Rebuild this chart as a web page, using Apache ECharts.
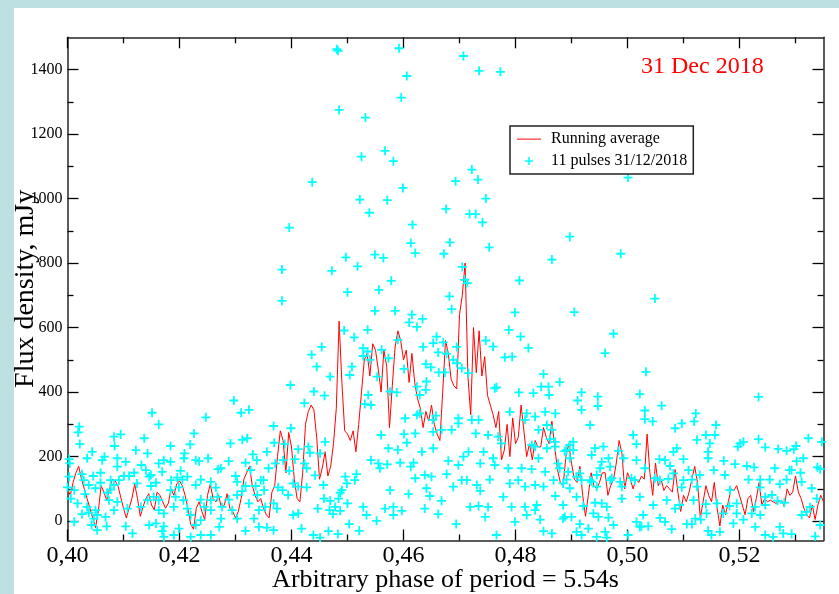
<!DOCTYPE html>
<html>
<head>
<meta charset="utf-8">
<script src="https://cdn.jsdelivr.net/npm/echarts@6/dist/echarts.min.js"></script>
<style>
html,body{margin:0;padding:0;background:#bde0e3;width:839px;height:594px;overflow:hidden;}
#chart{position:absolute;left:14px;top:8px;width:825px;height:586px;background:#ffffff;}
</style>
</head>
<body>
<div id="chart"></div>
<script>
// ---- axis ticks / labels ----
const xMajorTicks = [0.40, 0.42, 0.44, 0.46, 0.48, 0.50, 0.52];
const xMinorTicks = [0.41, 0.43, 0.45, 0.47, 0.49, 0.51, 0.53];
const yMajorTicks = [0, 200, 400, 600, 800, 1000, 1200, 1400];
const yMinorTicks = [100, 300, 500, 700, 900, 1100, 1300];

const titleText = '31 Dec 2018';
const xTitle = 'Arbitrary phase of period = 5.54s';
const yTitle = 'Flux density, mJy';
const seriesNames = ['Running average', '11 pulses 31/12/2018'];

// ---- running average (phase, flux) ----
const avgPhase = [
0.4000,0.4005,0.4010,0.4015,0.4020,0.4025,0.4030,0.4035,0.4040,0.4045,
0.4050,0.4055,0.4060,0.4065,0.4070,0.4075,0.4080,0.4085,0.4090,0.4095,
0.4100,0.4105,0.4110,0.4115,0.4120,0.4125,0.4130,0.4135,0.4140,0.4145,
0.4150,0.4155,0.4160,0.4165,0.4170,0.4175,0.4180,0.4185,0.4190,0.4195,
0.4200,0.4205,0.4210,0.4215,0.4220,0.4225,0.4230,0.4235,0.4240,0.4245,
0.4250,0.4255,0.4260,0.4265,0.4270,0.4275,0.4280,0.4285,0.4290,0.4295,
0.4300,0.4305,0.4310,0.4315,0.4320,0.4325,0.4330,0.4335,0.4340,0.4345,
0.4350,0.4355,0.4360,0.4365,0.4370,0.4375,0.4380,0.4385,0.4390,0.4395,
0.4400,0.4405,0.4410,0.4415,0.4420,0.4425,0.4430,0.4435,0.4440,0.4445,
0.4450,0.4455,0.4460,0.4465,0.4470,0.4475,0.4480,0.4485,0.4490,0.4495,
0.4500,0.4505,0.4510,0.4515,0.4520,0.4525,0.4530,0.4535,0.4540,0.4545,
0.4550,0.4555,0.4560,0.4565,0.4570,0.4575,0.4580,0.4585,0.4590,0.4595,
0.4600,0.4605,0.4610,0.4615,0.4620,0.4625,0.4630,0.4635,0.4640,0.4645,
0.4650,0.4655,0.4660,0.4665,0.4670,0.4675,0.4680,0.4685,0.4690,0.4695,
0.4700,0.4705,0.4710,0.4715,0.4720,0.4725,0.4730,0.4735,0.4740,0.4745,
0.4750,0.4755,0.4760,0.4765,0.4770,0.4775,0.4780,0.4785,0.4790,0.4795,
0.4800,0.4805,0.4810,0.4815,0.4820,0.4825,0.4830,0.4835,0.4840,0.4845,
0.4850,0.4855,0.4860,0.4865,0.4870,0.4875,0.4880,0.4885,0.4890,0.4895,
0.4900,0.4905,0.4910,0.4915,0.4920,0.4925,0.4930,0.4935,0.4940,0.4945,
0.4950,0.4955,0.4960,0.4965,0.4970,0.4975,0.4980,0.4985,0.4990,0.4995,
0.5000,0.5005,0.5010,0.5015,0.5020,0.5025,0.5030,0.5035,0.5040,0.5045,
0.5050,0.5055,0.5060,0.5065,0.5070,0.5075,0.5080,0.5085,0.5090,0.5095,
0.5100,0.5105,0.5110,0.5115,0.5120,0.5125,0.5130,0.5135,0.5140,0.5145,
0.5150,0.5155,0.5160,0.5165,0.5170,0.5175,0.5180,0.5185,0.5190,0.5195,
0.5200,0.5205,0.5210,0.5215,0.5220,0.5225,0.5230,0.5235,0.5240,0.5245,
0.5250,0.5255,0.5260,0.5265,0.5270,0.5275,0.5280,0.5285,0.5290,0.5295,
0.5300,0.5305,0.5310,0.5315,0.5320,0.5325,0.5330,0.5335,0.5340,0.5345,
0.5350
];
const avgFlux = [
100,80,120,150,170,130,100,70,40,10,
-20,30,110,90,65,100,130,125,110,75,
40,10,40,70,115,70,15,45,70,85,
50,35,90,80,60,40,55,100,80,115,
125,110,80,40,-10,-25,40,60,30,5,
80,115,70,60,80,40,50,85,40,30,
10,30,70,130,150,170,110,80,60,70,
40,20,10,90,110,200,280,250,150,275,
230,130,70,60,150,300,340,360,345,260,
130,165,215,140,170,240,350,620,430,280,
270,250,280,215,300,400,500,520,450,550,
530,470,400,530,480,290,420,540,590,560,
500,530,430,520,430,380,350,290,340,310,
360,300,270,250,400,560,520,440,420,410,
640,700,800,450,330,600,460,590,450,510,
390,360,330,290,340,190,220,300,200,320,
240,260,360,280,200,240,190,250,230,230,
290,260,240,310,230,160,120,110,200,240,
180,130,120,170,80,15,80,150,110,100,
120,150,150,80,110,130,180,250,210,100,
150,130,100,130,120,140,130,270,150,80,
180,110,130,95,110,100,90,160,90,30,
80,60,90,130,170,120,10,60,110,80,
60,120,40,-15,50,20,60,100,95,110,
80,50,20,70,80,30,70,120,50,70,
60,65,60,55,60,65,45,100,80,90,
140,90,70,40,20,10,50,5,50,80,
60
];

// ---- individual pulse samples [phase, flux] ----
const pulsePoints = [
[0.4481,1463],[0.4483,1458],[0.4592,1466],[0.4707,1442],[0.4735,1396],[0.4773,1393],[0.4606,1380],[0.4596,1313],[0.4485,1275],[0.4532,1251],
[0.4525,1130],[0.4567,1148],[0.4582,1116],[0.4437,1051],[0.4722,1090],[0.4693,1054],[0.4733,1059],[0.4599,1033],[0.4522,997],[0.4571,995],
[0.4747,1000],[0.4539,956],[0.4676,968],[0.4718,952],[0.4729,952],[0.4741,926],[0.4616,919],[0.4613,862],[0.4683,864],[0.4753,849],
[0.4621,831],[0.4672,829],[0.4497,818],[0.4549,826],[0.4564,816],[0.4518,790],[0.4472,776],[0.4705,788],[0.4578,745],[0.4807,746],
[0.4865,811],[0.4396,910],[0.4383,780],[0.4383,683],[0.4897,882],[0.5001,1065],[0.4988,829],[0.5049,690],[0.5033,463],[0.5234,385],
[0.4799,647],[0.4905,648],[0.4788,593],[0.4809,572],[0.4975,581],[0.4823,537],[0.4960,521],[0.4747,560],[0.4760,541],[0.4781,508],
[0.4794,510],[0.4714,738],[0.4709,748],[0.4850,456],[0.4879,431],[0.4918,399],[0.4947,386],[0.4947,357],[0.4911,374],[0.4918,345],
[0.4933,298],[0.5022,394],[0.4846,417],[0.4859,417],[0.4860,391],[0.4832,397],[0.4806,399],[0.4766,415],[0.4763,412],[0.4695,540],
[0.4695,490],[0.4704,474],[0.4716,459],
[0.4500,710],[0.4556,717],[0.4682,697],[0.4686,657],[0.4549,652],[0.4585,652],[0.4615,640],[0.4634,627],[0.4610,616],[0.4624,602],
[0.4536,593],[0.4494,591],[0.4512,570],[0.4454,540],[0.4436,516],[0.4445,479],[0.4398,422],[0.4440,402],[0.4459,389],[0.4423,366],
[0.4469,448],[0.4508,479],[0.4504,453],[0.4528,536],[0.4536,526],[0.4561,531],[0.4573,505],[0.4528,512],[0.4540,500],[0.4553,448],
[0.4537,391],[0.4542,360],[0.4531,363],[0.4576,402],[0.4588,399],[0.4590,562],[0.4601,472],[0.4640,487],[0.4649,477],[0.4663,461],
[0.4674,461],[0.4689,500],[0.4635,540],[0.4659,572],[0.4653,552],[0.4671,554],[0.4677,519],[0.4662,523],[0.4624,417],[0.4629,391],
[0.4641,433],[0.4640,407],[0.4603,319],[0.4624,329],[0.4629,334],[0.4658,327],[0.4652,314],[0.4621,272],[0.4668,283],[0.4686,283],
[0.4653,277],[0.4573,226],[0.4590,221],[0.4560,267],[0.4601,270],[0.4606,243],[0.4633,215],[0.4542,189],[0.4555,179],[0.4571,176],
[0.4594,181],[0.4618,181],[0.4613,169],[0.4558,164],[0.4653,226],[0.4680,187],[0.4677,146],[0.4638,143],[0.4621,133],[0.4650,138],
[0.4641,102],[0.4689,107],[0.4668,63],[0.4647,78],[0.4576,96],[0.4609,84],[0.4582,44],[0.4567,39],[0.4597,32],[0.4638,39],
[0.4662,22],[0.4582,19],[0.4552,1],[0.4534,19],[0.4528,44],[0.4503,-9],[0.4521,-30],[0.4483,-40],[0.4466,-31],[0.4439,-43],
[0.4418,-23],[0.4451,-51],[0.4694,-9],[0.4368,-28],[0.4356,-20],
[0.4368,295],[0.4399,288],[0.4369,243],[0.4388,239],[0.4356,215],[0.4412,223],[0.4406,192],[0.4371,179],[0.4359,164],[0.4385,189],
[0.4430,231],[0.4433,212],[0.4451,210],[0.4423,179],[0.4442,142],[0.4427,164],[0.4396,156],[0.4350,127],[0.4351,96],[0.4376,105],
[0.4384,96],[0.4394,81],[0.4403,117],[0.4412,107],[0.4427,105],[0.4458,70],[0.4469,63],[0.4484,70],[0.4487,88],[0.4496,138],
[0.4499,117],[0.4516,146],[0.4513,127],[0.4490,96],[0.4478,44],[0.4468,34],[0.4474,22],[0.4487,32],[0.4500,55],[0.4374,39],
[0.4368,55],[0.4353,44],[0.4403,19],[0.4412,24],[0.4447,39],[0.4457,112],[0.4460,246],
[0.4021,293],[0.4019,275],[0.4022,239],[0.4044,215],[0.4003,192],[0.4004,179],[0.4035,195],[0.4062,189],[0.4066,200],[0.4059,150],
[0.4003,138],[0.4026,146],[0.4046,140],[0.4029,127],[0.4038,112],[0.4059,119],[0.4000,105],[0.4012,96],[0.4031,84],[0.4050,102],
[0.4077,98],[0.4071,88],[0.4006,70],[0.4018,55],[0.4035,44],[0.4038,26],[0.4026,22],[0.4050,34],[0.4053,19],[0.4012,-2],
[0.4068,13],[0.4047,8],[0.4043,-12],[0.4070,-16],[0.4053,-28],[0.4083,262],[0.4084,233],[0.4095,269],[0.4089,195],[0.4089,169],
[0.4104,184],[0.4101,140],[0.4092,127],[0.4077,127],[0.4083,112],[0.4074,65],[0.4089,60],[0.4083,34],[0.4107,39],[0.4104,-16],
[0.4116,-38],[0.4122,220],[0.4137,257],[0.4143,210],[0.4132,174],[0.4140,158],[0.4119,150],[0.4110,140],[0.4124,117],[0.4146,138],
[0.4151,336],[0.4163,300],[0.4149,143],[0.4163,179],[0.4172,189],[0.4169,153],[0.4158,119],[0.4149,109],[0.4154,75],[0.4163,65],
[0.4143,65],[0.4131,44],[0.4163,34],[0.4172,24],[0.4158,-7],[0.4146,-12],[0.4172,-16],[0.4169,-31],[0.4184,233],[0.4219,238],
[0.4226,272],[0.4247,322],[0.4297,374],[0.4310,336],[0.4324,345],[0.4291,241],[0.4312,252],[0.4321,257],[0.4184,184],[0.4202,156],
[0.4209,210],[0.4208,195],[0.4229,189],[0.4235,186],[0.4251,195],[0.4288,186],[0.4318,181],[0.4331,207],[0.4338,189],[0.4185,127],
[0.4196,135],[0.4205,129],[0.4214,138],[0.4229,112],[0.4238,129],[0.4256,122],[0.4265,104],[0.4269,161],[0.4274,164],[0.4300,140],
[0.4303,122],[0.4318,109],[0.4327,158],[0.4336,109],[0.4345,127],[0.4339,81],[0.4342,34],[0.4324,55],[0.4303,81],[0.4288,67],
[0.4268,75],[0.4256,65],[0.4238,67],[0.4244,44],[0.4207,65],[0.4193,75],[0.4184,96],[0.4199,105],[0.4190,44],[0.4214,39],
[0.4220,19],[0.4229,-12],[0.4238,3],[0.4256,34],[0.4276,44],[0.4294,34],[0.4303,8],[0.4274,8],[0.4220,-49],[0.4256,-43],
[0.4238,-43],[0.4271,-18],[0.4318,-30],[0.4342,-18],[0.4172,-49],[0.4190,-43],[0.4199,-23],[0.4333,8],[0.4312,93],
[0.4853,339],[0.4871,334],[0.4856,298],[0.4888,217],[0.4897,236],[0.4903,246],[0.4903,220],[0.4936,205],[0.4942,226],[0.4957,231],
[0.4954,184],[0.4966,195],[0.4969,169],[0.4993,195],[0.5010,267],[0.5016,239],[0.5016,189],[0.4865,283],[0.4856,226],[0.4871,246],
[0.4879,164],[0.4891,129],[0.4894,153],[0.4909,138],[0.4915,148],[0.4936,122],[0.4945,143],[0.4951,164],[0.4972,133],[0.4987,122],
[0.5007,133],[0.4850,107],[0.4868,127],[0.4871,78],[0.4909,75],[0.4921,47],[0.4954,55],[0.4990,70],[0.5022,75],[0.4885,50],
[0.4888,13],[0.4900,13],[0.4939,24],[0.4948,13],[0.4966,11],[0.4975,-12],[0.5016,-2],[0.5022,-18],[0.4930,-23],[0.4909,-33],
[0.4865,-38],[0.4918,-43],[0.4945,-49],[0.5001,-43],[0.4960,-33],[0.4844,5],
[0.4698,319],[0.4698,303],[0.4722,314],[0.4734,314],[0.4729,272],[0.4751,267],[0.4769,262],[0.4775,241],[0.4790,339],[0.4817,314],
[0.4820,334],[0.4835,324],[0.4841,283],[0.4829,236],[0.4835,231],[0.4862,254],[0.4871,231],[0.4891,220],[0.4897,195],[0.4984,218],
[0.4707,200],[0.4716,215],[0.4698,174],[0.4743,215],[0.4737,179],[0.4760,195],[0.4763,174],[0.4787,164],[0.4811,164],[0.4829,161],
[0.4841,195],[0.4853,153],[0.4876,179],[0.4704,127],[0.4713,127],[0.4731,112],[0.4737,94],[0.4754,129],[0.4790,117],[0.4805,127],
[0.4817,107],[0.4835,112],[0.4885,117],[0.4897,102],[0.4918,127],[0.4933,127],[0.4945,107],[0.4969,127],[0.4990,107],[0.5013,127],
[0.4778,75],[0.4719,44],[0.4734,47],[0.4751,44],[0.4793,44],[0.4817,44],[0.4838,50],[0.4942,57],[0.4963,44],[0.4746,13],
[0.4820,19],[0.4835,34],[0.4885,8],[0.4799,-2],[0.4915,-9],[0.4766,-43],[0.4850,-31],[0.4963,-51],
[0.5061,358],[0.5031,343],[0.5031,316],[0.5045,309],[0.5122,334],[0.5119,309],[0.5097,303],[0.5085,288],[0.5158,298],[0.5140,267],
[0.5156,267],[0.5124,252],[0.5147,241],[0.5144,215],[0.5144,195],[0.5234,254],[0.5201,241],[0.5207,246],[0.5197,231],[0.5246,229],
[0.5269,224],[0.5284,218],[0.5297,223],[0.5301,233],[0.5323,257],[0.5347,246],[0.5314,195],[0.5302,186],[0.5293,158],[0.5309,150],
[0.5339,167],[0.5344,161],[0.5329,102],[0.5311,122],[0.5172,187],[0.5192,177],[0.5213,171],[0.5226,167],[0.5263,164],[0.5289,158],
[0.5154,158],[0.5174,143],[0.5129,143],[0.5109,158],[0.5100,127],[0.5115,129],[0.5082,148],[0.5076,171],[0.5067,189],[0.5057,192],
[0.5082,215],[0.5088,226],[0.5100,192],[0.5031,164],[0.5049,133],[0.5058,127],[0.5073,131],[0.5097,105],[0.5124,107],[0.5183,96],
[0.5216,129],[0.5237,129],[0.5254,129],[0.5284,129],[0.5237,105],[0.5272,115],[0.5258,81],[0.5246,75],[0.5268,63],[0.5280,57],
[0.5246,50],[0.5228,44],[0.5195,55],[0.5182,47],[0.5160,55],[0.5140,53],[0.5118,65],[0.5093,50],[0.5085,39],[0.5070,65],
[0.5046,50],[0.5028,19],[0.5058,10],[0.5067,-2],[0.5037,-16],[0.5025,-16],[0.5079,-25],[0.5106,-9],[0.5115,-9],[0.5131,5],
[0.5144,-30],[0.5150,-43],[0.5165,-33],[0.5189,-7],[0.5195,24],[0.5207,5],[0.5222,24],[0.5228,-18],[0.5246,-43],[0.5260,-49],
[0.5278,-38],[0.5293,-40],[0.5335,-47],[0.5344,-12],[0.5311,19],[0.5320,29],[0.5326,44],[0.5338,70],[0.5272,-18],[0.5237,19],
[0.5171,24],[0.5141,24],[0.5121,8]
];

// ---- chart ----
const FONT = 'Liberation Serif';
const X_MIN = 0.40, X_MAX = 0.535, Y_MIN = -60, Y_MAX = 1500;
const frameLine = {show: true, onZero: false, lineStyle: {color: '#262626', width: 1.5}};
const noLine = {show: false, onZero: false};

function xAx(pos, ticks, len, withLine, withLabel) {
  return {
    type: 'value', position: pos, min: X_MIN, max: X_MAX,
    axisLine: withLine ? frameLine : noLine,
    axisTick: {show: true, inside: true, length: len, customValues: ticks,
               lineStyle: {color: '#000', width: 1.3}},
    axisLabel: withLabel ? {show: true, customValues: xMajorTicks, margin: 3,
               fontFamily: FONT, fontSize: 24, color: '#000',
               formatter: v => v.toFixed(2).replace('.', ',')} : {show: false},
    splitLine: {show: false}
  };
}
function yAx(pos, ticks, len, withLine, withLabel) {
  return {
    type: 'value', position: pos, min: Y_MIN, max: Y_MAX,
    axisLine: withLine ? frameLine : noLine,
    axisTick: {show: true, inside: true, length: len, customValues: ticks,
               lineStyle: {color: '#000', width: 1.3}},
    axisLabel: withLabel ? {show: true, customValues: yMajorTicks, margin: 5,
               fontFamily: FONT, fontSize: 16, color: '#000',
               formatter: v => String(Math.round(v))} : {show: false},
    splitLine: {show: false}
  };
}

const xAxes = [
  xAx('bottom', xMajorTicks, 11, true, true),
  xAx('bottom', xMinorTicks, 6, false, false),
  xAx('top', xMajorTicks, 11, true, false),
  xAx('top', xMinorTicks, 6, false, false)
];
Object.assign(xAxes[0], {
  name: xTitle, nameLocation: 'middle', nameGap: 27, nameMoveOverlap: false,
  nameTextStyle: {fontFamily: FONT, fontSize: 26, color: '#000'}
});
const yAxes = [
  yAx('left', yMajorTicks, 11, true, true),
  yAx('left', yMinorTicks, 6, false, false),
  yAx('right', yMajorTicks, 11, true, false),
  yAx('right', yMinorTicks, 6, false, false)
];
Object.assign(yAxes[0], {
  name: yTitle, nameLocation: 'middle', nameGap: 28, nameMoveOverlap: false,
  nameTextStyle: {fontFamily: FONT, fontSize: 28, color: '#000'}
});

const avgData = avgPhase.map((p, i) => [p, avgFlux[i]]);
const plusPath = 'path://M4,0H6V4H10V6H6V10H4V6H0V4H4Z';
const plusLegend = 'path://M0,0M14,14M6.2,3H7.8V6.2H11V7.8H7.8V11H6.2V7.8H3V6.2H6.2Z';
const lineLegend = 'path://M0,0M24,14M0,6.6H24V7.6H0Z';

const chart = echarts.init(document.getElementById('chart'), null, {renderer: 'canvas'});
chart.setOption({
  animation: false,
  backgroundColor: '#ffffff',
  textStyle: {fontFamily: FONT},
  grid: {left: 53.5, right: 15.5, top: 29.3, bottom: 53.5, containLabel: false, outerBoundsMode: 'none'},
  xAxis: xAxes,
  yAxis: yAxes,
  legend: {
    orient: 'vertical', left: 496, top: 118,
    padding: [5, 6, 5, 7], itemGap: 6, itemWidth: 24, itemHeight: 14,
    borderColor: '#222', borderWidth: 1.5, backgroundColor: '#fff',
    textStyle: {fontFamily: FONT, fontSize: 16, color: '#000', lineHeight: 16, padding: [0, 0, 0, 5]},
    selectedMode: false,
    data: [
      {name: seriesNames[0], icon: lineLegend, itemStyle: {color: '#ff0000'}},
      {name: seriesNames[1], icon: plusLegend}
    ]
  },
  graphic: [{
    type: 'text', left: 627, top: 47,
    style: {text: titleText, fontFamily: FONT, fontSize: 24, fill: '#ff0000'}
  }],
  series: [
    {
      name: seriesNames[0], type: 'line', data: avgData,
      xAxisIndex: 0, yAxisIndex: 0,
      symbol: 'none', showSymbol: false,
      lineStyle: {color: '#ff0000', width: 1},
      itemStyle: {color: '#ff0000'},
      z: 2
    },
    {
      name: seriesNames[1], type: 'scatter', data: pulsePoints,
      xAxisIndex: 0, yAxisIndex: 0,
      symbol: plusPath, symbolSize: 9,
      itemStyle: {color: '#00ffff', opacity: 1},
      z: 3
    }
  ]
});
</script>
</body>
</html>
